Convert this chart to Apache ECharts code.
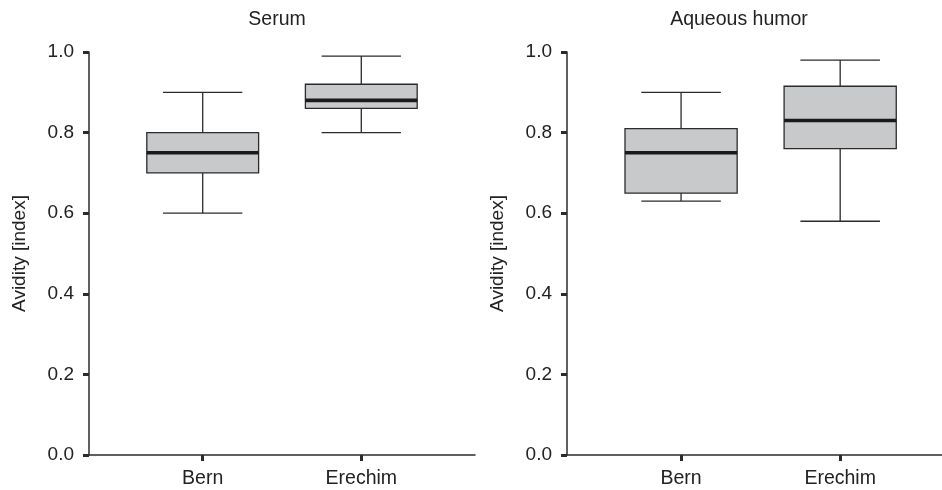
<!DOCTYPE html>
<html>
<head>
<meta charset="utf-8">
<script src="https://cdn.jsdelivr.net/npm/echarts@6/dist/echarts.min.js"></script>
<style>
  html, body { margin: 0; padding: 0; background: #fff; }
  #main { width: 942px; height: 490px; }
</style>
</head>
<body>
<div id="main"></div>
<script>
var chart = echarts.init(document.getElementById('main'));

// groups on the x axis (position 1 and 2)
var categories = ['Bern', 'Erechim'];
var panelTitles = ['Serum', 'Aqueous humor'];

// [min, Q1, median, Q3, max]
var serumBoxes = [
    [0.60, 0.70, 0.75, 0.80, 0.90],
    [0.80, 0.86, 0.88, 0.92, 0.99]
];
var aqueousBoxes = [
    [0.63, 0.65, 0.75, 0.81, 0.90],
    [0.58, 0.76, 0.83, 0.915, 0.98]
];

var FONT = 'Liberation Sans, Arial, sans-serif';
var INK = '#2b2b2b';

function toData(boxes) {
    return boxes.map(function (b, i) {
        return [i + 1].concat(b);
    });
}

// box + whiskers drawn through the axis scales
function renderBox(params, api) {
    var x = api.value(0);
    var lo = api.coord([x, api.value(1)]);
    var q1 = api.coord([x, api.value(2)]);
    var md = api.coord([x, api.value(3)]);
    var q3 = api.coord([x, api.value(4)]);
    var hi = api.coord([x, api.value(5)]);
    var unit = api.size([1, 0])[0];
    var bw = unit * 0.705;
    var cw = unit * 0.5;
    var cx = md[0];
    var line = { stroke: INK, lineWidth: 1.3 };
    return {
        type: 'group',
        children: [
            { type: 'line', shape: { x1: cx, y1: hi[1], x2: cx, y2: q3[1] }, style: line },
            { type: 'line', shape: { x1: cx, y1: q1[1], x2: cx, y2: lo[1] }, style: line },
            { type: 'line', shape: { x1: cx - cw / 2, y1: hi[1], x2: cx + cw / 2, y2: hi[1] }, style: line },
            { type: 'line', shape: { x1: cx - cw / 2, y1: lo[1], x2: cx + cw / 2, y2: lo[1] }, style: line },
            {
                type: 'rect',
                shape: { x: cx - bw / 2, y: q3[1], width: bw, height: q1[1] - q3[1] },
                style: { fill: '#c8c9cb', stroke: INK, lineWidth: 1.3 }
            },
            {
                type: 'line',
                shape: { x1: cx - bw / 2, y1: md[1], x2: cx + bw / 2, y2: md[1] },
                style: { stroke: '#1a1a1a', lineWidth: 3.6 }
            }
        ]
    };
}

var grids = [
    { left: 89, width: 386, top: 52, height: 403 },
    { left: 567, width: 375, top: 52, height: 403 }
];

var xAxes = [], yAxes = [], series = [];
[serumBoxes, aqueousBoxes].forEach(function (boxes, i) {
    xAxes.push({
        type: 'value',
        gridIndex: i,
        min: 0.283,
        max: i === 0 ? 2.717 : 2.64,
        splitLine: { show: false },
        axisLine: { onZero: false, lineStyle: { color: INK, width: 1.5 } },
        axisTick: {
            show: true, customValues: [1, 2], length: 6,
            lineStyle: { color: INK, width: 3 }
        },
        axisLabel: {
            customValues: [1, 2], margin: 14,
            color: '#222', fontSize: 19.5, fontFamily: FONT,
            formatter: function (v) { return categories[Math.round(v) - 1] || ''; }
        }
    });
    yAxes.push({
        type: 'value',
        gridIndex: i,
        min: 0,
        max: 1,
        interval: 0.2,
        name: 'Avidity [index]',
        nameLocation: 'middle',
        nameGap: 60,
        nameTextStyle: { color: '#222', fontSize: 19, fontFamily: FONT },
        splitLine: { show: false },
        axisLine: { show: true, lineStyle: { color: INK, width: 1.5 } },
        axisTick: { show: true, length: 6, lineStyle: { color: INK, width: 3 } },
        axisLabel: {
            color: '#222', fontSize: 19, fontFamily: FONT, margin: 15,
            formatter: function (v) { return v.toFixed(1); }
        }
    });
    series.push({
        type: 'custom',
        xAxisIndex: i,
        yAxisIndex: i,
        renderItem: renderBox,
        encode: { x: 0, y: [1, 2, 3, 4, 5] },
        data: toData(boxes),
        silent: true
    });
});

chart.setOption({
    backgroundColor: '#fff',
    animation: false,
    title: [
        { text: panelTitles[0], left: 272, top: 5, textAlign: 'center',
          textStyle: { fontSize: 19.5, fontWeight: 'normal', color: '#222', fontFamily: FONT } },
        { text: panelTitles[1], left: 734, top: 5, textAlign: 'center',
          textStyle: { fontSize: 19.5, fontWeight: 'normal', color: '#222', fontFamily: FONT } }
    ],
    grid: grids,
    xAxis: xAxes,
    yAxis: yAxes,
    series: series
});
</script>
</body>
</html>
